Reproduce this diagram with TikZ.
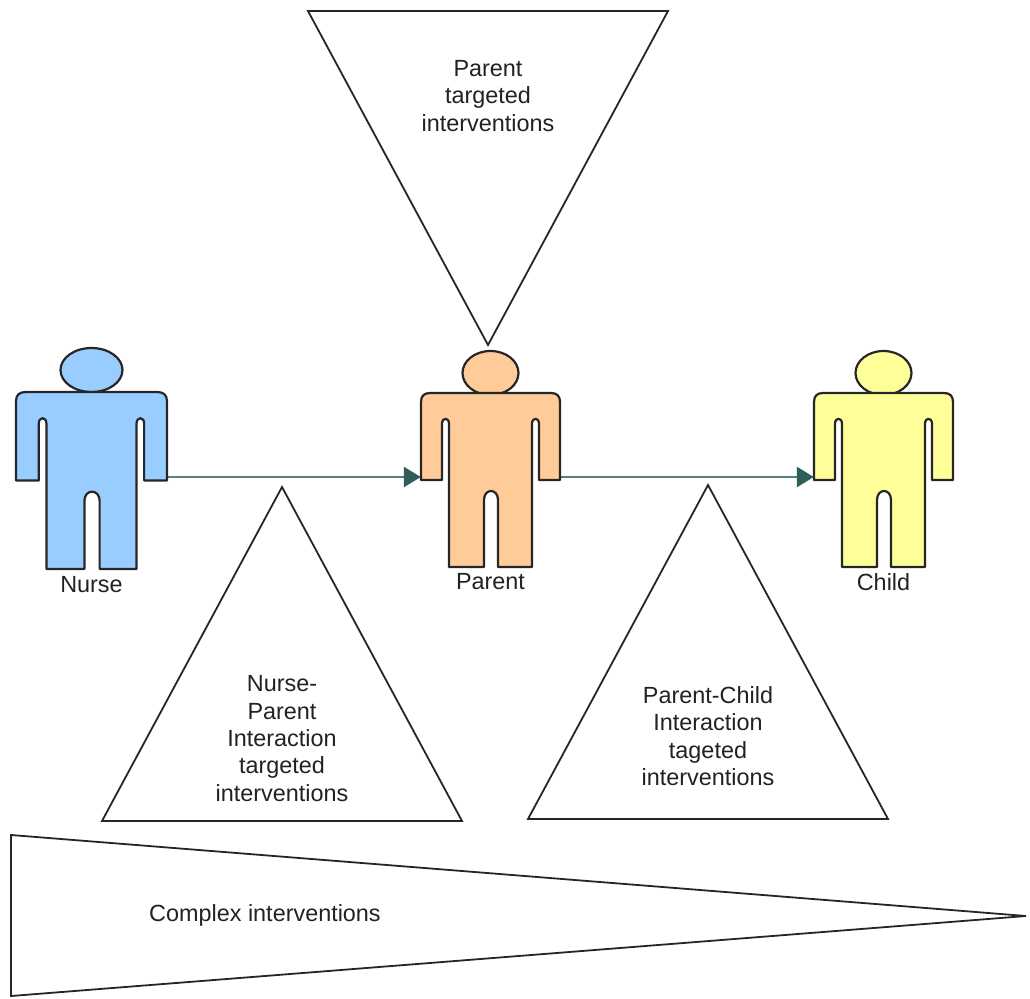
\documentclass[tikz,border=0pt]{standalone}
\usepackage{fontspec}
\setmainfont{Liberation Sans}
\usetikzlibrary{arrows.meta}
\definecolor{nurseblue}{HTML}{99CCFF}
\definecolor{parentorange}{HTML}{FFCC99}
\definecolor{childyellow}{HTML}{FFFF99}
\definecolor{linkline}{HTML}{55807C}
\definecolor{linktip}{HTML}{2F5D5A}
\definecolor{inktext}{HTML}{222222}
\tikzset{
  outline/.style={draw=black!85,line width=2.2pt,line join=round},
  tri/.style={draw=black!85,line width=1.8pt,line join=miter,fill=white},
  lbl/.style={font=\fontsize{23.4}{27.4}\selectfont,text=inktext,align=center,inner sep=0pt},
  anchorbox/.style={inner sep=0pt,minimum height=170pt},
  link/.style={draw=linkline,line width=2.6pt,-{Triangle[length=17pt,width=20pt,color=linktip]},shorten >=0pt}
}
% #1 left, #2 top, #3 xscale, #4 yscale, #5 fill, #6 head cx, #7 head cy, #8 head rx
\newcommand{\personfig}[8]{%
  \draw[outline,fill=#5] (#6,#7) ellipse [x radius=#8,y radius=22];
  \begin{scope}[shift={(#1,#2)},xscale=#3,yscale=#4]
    \draw[outline,fill=#5]
      (0,87) -- (0,9) .. controls (0,3) and (3,0) .. (9,0) -- (130,0)
      .. controls (136,0) and (139,3) .. (139,9) -- (139,87) -- (118,87) -- (118,31)
      .. controls (118,24) and (111,24) .. (111,31) -- (111,174) -- (77,174) -- (77,107)
      .. controls (77,95) and (63,95) .. (63,107) -- (63,174) -- (28,174) -- (28,31)
      .. controls (28,24) and (21,24) .. (21,31) -- (21,87) -- cycle;
  \end{scope}}
\begin{document}
\begin{tikzpicture}[x=1pt,y=-1pt]
\useasboundingbox (0,0) rectangle (1030,998);
% triangles
\draw[tri] (308,11) -- (668,11) -- (488,345) -- cycle;
\draw[tri] (282,487) -- (462,821) -- (102,821) -- cycle;
\draw[tri] (708,485) -- (888,819) -- (528,819) -- cycle;
\draw[tri] (11,835) -- (1026,916) -- (11,996) -- cycle;
% connector anchors: invisible boxes spanning each body, centred on the connector's height
\node[anchorbox,minimum width=151pt] (nurse) at (91.5,477) {};
\node[anchorbox,minimum width=139pt] (parent) at (490.5,477) {};
\node[anchorbox,minimum width=139pt] (child) at (883.5,477) {};
\draw[link] (nurse.east) -- (parent.west);
\draw[link] (parent.east) -- (child.west);
% people
\personfig{16}{392}{1.086}{1.017}{nurseblue}{91.5}{370}{31}
\personfig{421}{393}{1}{1}{parentorange}{490.5}{373}{28}
\personfig{814}{393}{1}{1}{childyellow}{883.5}{373}{28}
% labels
\node[lbl] (nurselbl) at (91.5,585) {Nurse};
\node[lbl] (parentlbl) at (490.5,582) {Parent};
\node[lbl] (childlbl) at (883.5,582) {Child};
\node[lbl] (ptext) at (488,96) {Parent\\targeted\\interventions};
\node[lbl] (nptext) at (282,738.5) {Nurse-\\Parent\\Interaction\\targeted\\interventions};
\node[lbl] (pctext) at (708,736) {Parent-Child\\Interaction\\tageted\\interventions};
\node[lbl] (ctext) at (265,915) {Complex interventions};
\end{tikzpicture}
\end{document}
